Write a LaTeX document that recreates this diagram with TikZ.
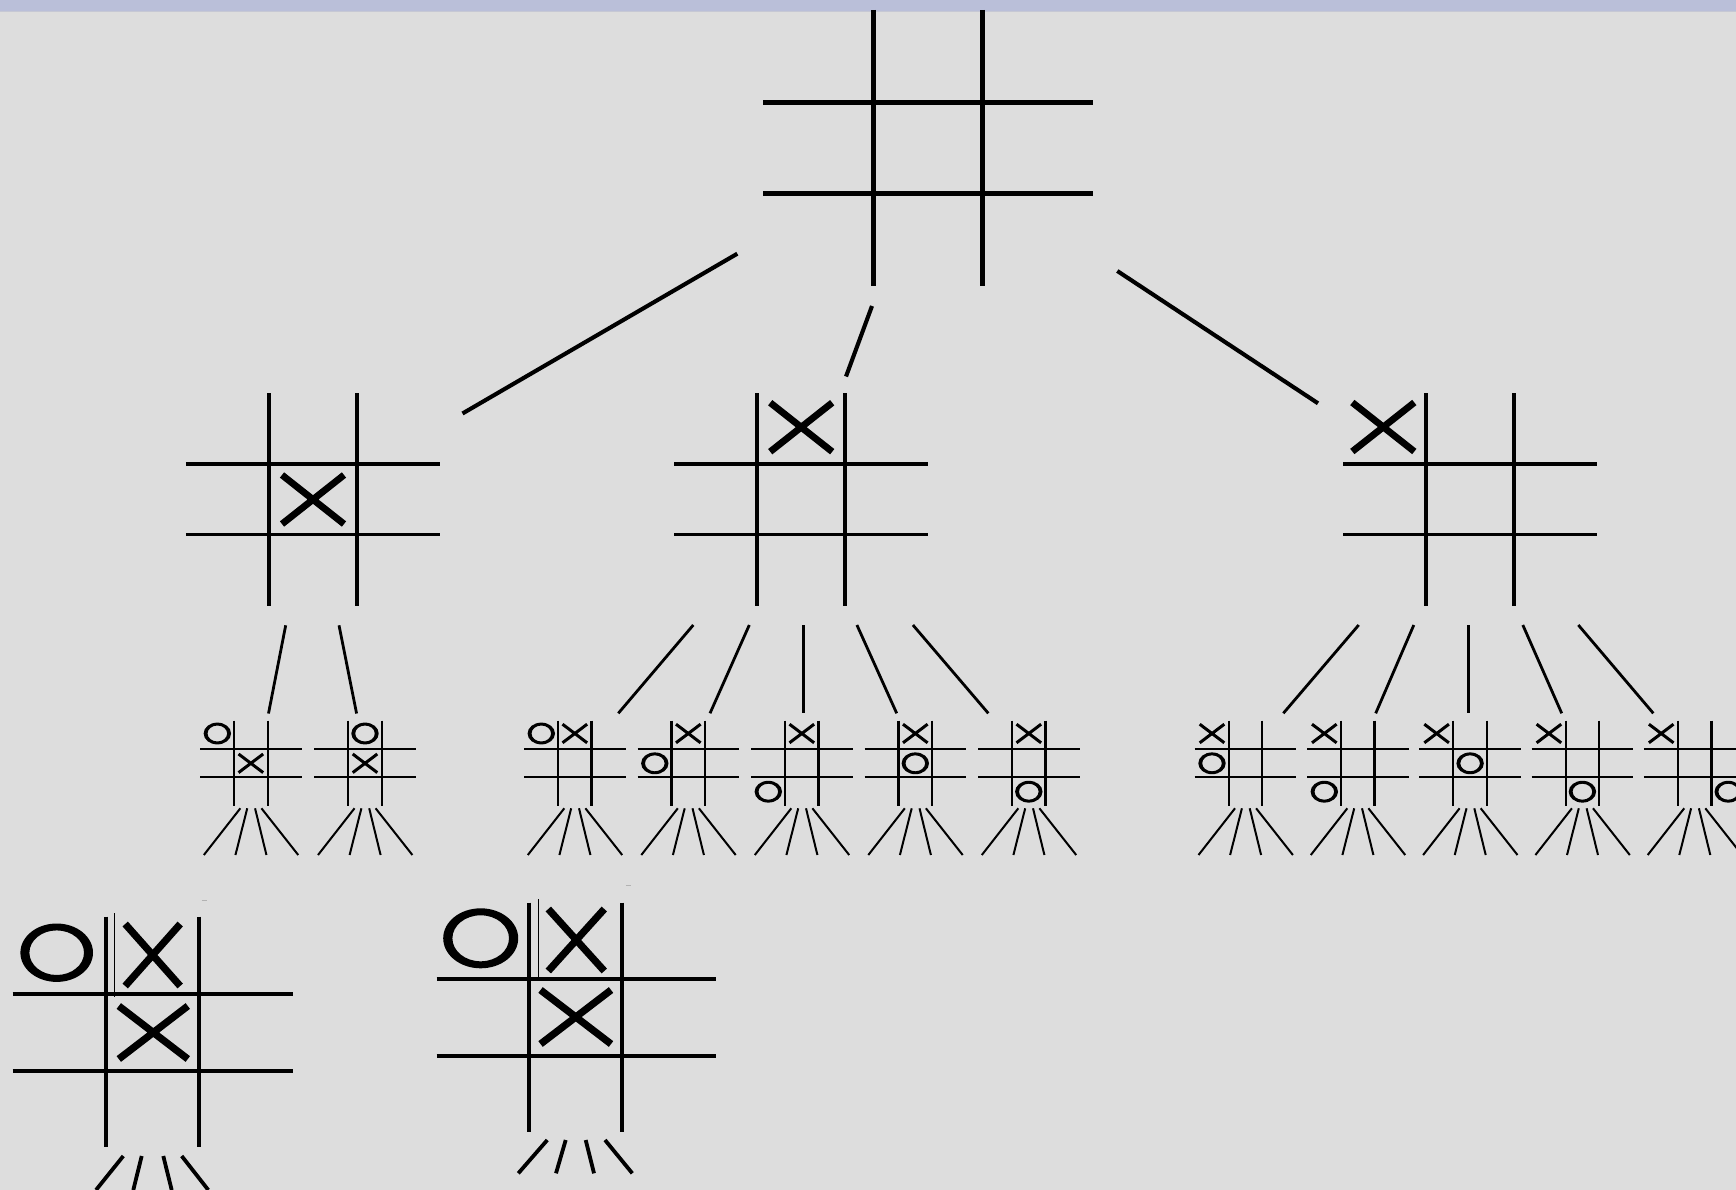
\documentclass[tikz,border=0pt]{standalone}
\definecolor{bgc}{HTML}{DDDDDD}
\definecolor{bandc}{HTML}{BABFD9}
\definecolor{bandedge}{HTML}{C6C8D4}
\tikzset{
  rootgrid/.style={line width=4.5pt, black},
  lonegrid/.style={line width=3.8pt, black},
  smallgrid/.style={line width=2.2pt, black},
  biggrid/.style={line width=4.2pt, black},
  rootconn/.style={line width=4.1pt, black},
  loneconn/.style={line width=2.8pt, black},
  fanline/.style={line width=2pt, black},
  bigfan/.style={line width=3.8pt, black},
  smallmark/.style={line width=3pt, black},
  thinart/.style={line width=0.8pt, black}
}
% grid: x1 x2 vtop vbot hy1 hy2 hleft hright style
\newcommand{\tttgrid}[9]{\draw[#9] (#1,#3)--(#1,#4) (#2,#3)--(#2,#4) (#7,#5)--(#8,#5) (#7,#6)--(#8,#6);}
% X mark: cx cy w h linewidth
\newcommand{\mkBigX}[5]{\draw[line width=#5] (#1-#3/2,#2-#4/2)--(#1+#3/2,#2+#4/2) (#1-#3/2,#2+#4/2)--(#1+#3/2,#2-#4/2);}
% O ring: cx cy outer-rx outer-ry inner-rx inner-ry
\newcommand{\mkRing}[6]{\fill[black, even odd rule] (#1,#2) ellipse [x radius=#3pt, y radius=#4pt] (#1,#2) ellipse [x radius=#5pt, y radius=#6pt];}
\newcommand{\mkX}[2]{\draw[smallmark] (#1-12.3,#2-9.3)--(#1+12.3,#2+9.3) (#1-12.3,#2+9.3)--(#1+12.3,#2-9.3);}
\newcommand{\mkO}[2]{\mkRing{#1}{#2}{13.7}{10.9}{9.8}{8.0}}
\newcommand{\smallboard}[1]{%
  \draw[smallgrid] (#1-16.75,720.7)--(#1-16.75,805.7) (#1+16.75,720.7)--(#1+16.75,805.7)
    (#1-50.8,749.3)--(#1+50.8,749.3) (#1-50.8,777.3)--(#1+50.8,777.3);
  \draw[fanline] (#1-10.5,808.3)--(#1-47,855) (#1-3.6,808.3)--(#1-15.4,855)
    (#1+4.2,808.3)--(#1+15.6,855) (#1+10.6,808.3)--(#1+47.4,855);}
\begin{document}
\begin{tikzpicture}[x=1pt,y=-1pt]
\useasboundingbox (0,0) rectangle (1736,1190);
\clip (0,0) rectangle (1736,1190);
\fill[bgc] (0,0) rectangle (1736,1190);
\fill[bandc] (0,0) rectangle (1736,11.5);
\draw[bandedge, line width=0.8pt] (0,11.8)--(1736,11.8);

% ---------- root board ----------
\tttgrid{873.5}{982.5}{10}{286}{102.7}{193.7}{763}{1093}{rootgrid}

% ---------- level 1 boards ----------
\tttgrid{269.1}{356.8}{393.3}{605.6}{464.3}{534.5}{185.9}{440.1}{lonegrid}
\mkBigX{313}{499.5}{62}{49}{6.8pt}
\tttgrid{757.3}{844.7}{393.3}{605.6}{464.3}{534.5}{674}{927.7}{lonegrid}
\mkBigX{801.2}{427.2}{62}{49}{6.8pt}
\tttgrid{1426.3}{1513.7}{393.3}{605.6}{464.3}{534.5}{1343}{1597}{lonegrid}
\mkBigX{1383.3}{427}{62}{49}{6.8pt}

% ---------- root connectors ----------
\coordinate (rA1) at (737.3,253.7);  \coordinate (rA2) at (462.5,413.5);
\coordinate (rB1) at (872,306);      \coordinate (rB2) at (846,376.5);
\coordinate (rC1) at (1117.3,271);   \coordinate (rC2) at (1318,403.3);
\draw[rootconn] (rA1)--(rA2);
\draw[rootconn] (rB1)--(rB2);
\draw[rootconn] (rC1)--(rC2);

% ---------- level 1 -> level 2 connectors ----------
\coordinate (lA1) at (285.7,625.3); \coordinate (lA2) at (268.5,713.5);
\coordinate (lB1) at (339,625.3);   \coordinate (lB2) at (356.6,713.5);
\draw[loneconn] (lA1)--(lA2);
\draw[loneconn] (lB1)--(lB2);
\coordinate (m11) at (693.3,625); \coordinate (m12) at (618.3,713.3);
\coordinate (m21) at (749.3,625); \coordinate (m22) at (710,713.3);
\coordinate (m31) at (803.3,625); \coordinate (m32) at (803.3,713.3);
\coordinate (m41) at (856.9,625); \coordinate (m42) at (896.7,713.3);
\coordinate (m51) at (912.9,625); \coordinate (m52) at (988.3,713.3);
\foreach \i in {1,...,5} {\draw[loneconn] (m\i1)--(m\i2);}
\coordinate (q11) at (1358.7,625); \coordinate (q12) at (1283.3,713.3);
\coordinate (q21) at (1413.8,625); \coordinate (q22) at (1375.7,713.3);
\coordinate (q31) at (1468.3,625); \coordinate (q32) at (1468.3,713.3);
\coordinate (q41) at (1522.8,625); \coordinate (q42) at (1561.7,713.3);
\coordinate (q51) at (1578.3,625); \coordinate (q52) at (1653.3,713.3);
\foreach \i in {1,...,5} {\draw[loneconn] (q\i1)--(q\i2);}

% ---------- level 2 small boards ----------
\smallboard{250.85} \mkO{217.35}{733.5} \mkX{250.85}{763.3}
\smallboard{365}    \mkO{365}{733.5}    \mkX{365}{763.3}

\smallboard{574.8}  \mkO{541.3}{733.5}  \mkX{574.8}{733.5}
\smallboard{688.3}  \mkX{688.3}{733.5}  \mkO{654.8}{763.3}
\smallboard{801.8}  \mkX{801.8}{733.5}  \mkO{768.3}{791.7}
\smallboard{915.3}  \mkX{915.3}{733.5}  \mkO{915.3}{763.3}
\smallboard{1028.8} \mkX{1028.8}{733.5} \mkO{1028.8}{791.7}

\smallboard{1245.5} \mkX{1212}{733.5}   \mkO{1212}{763.3}
\smallboard{1357.8} \mkX{1324.3}{733.5} \mkO{1324.3}{791.7}
\smallboard{1470.1} \mkX{1436.6}{733.5} \mkO{1470.1}{763.3}
\smallboard{1582.4} \mkX{1548.9}{733.5} \mkO{1582.4}{791.7}
\smallboard{1694.7} \mkX{1661.2}{733.5} \mkO{1728.2}{791.7}

% ---------- bottom enlarged boards ----------
\tttgrid{106}{198.7}{916.7}{1146.7}{994.3}{1070.7}{12.7}{293.3}{biggrid}
\draw[thinart] (114.3,913.3)--(114.3,996.7);
\mkRing{56.7}{952.7}{36.3}{29.2}{27.3}{22.3}
\mkBigX{152.7}{955}{55}{62}{7.2pt}
\mkBigX{153.3}{1032.5}{69}{53}{7.2pt}
\draw[bigfan] (123.3,1156)--(96,1190) (141.7,1156)--(133.3,1190)
  (163.3,1156)--(171.7,1190) (181.7,1156)--(208.3,1190);
\draw[gray!60, line width=1pt] (201.5,900)--(206.5,900);

\tttgrid{529.3}{622}{902.7}{1132.3}{979.3}{1055.7}{436.7}{716}{biggrid}
\draw[thinart] (538.3,899.3)--(538.3,981);
\mkRing{480.7}{938.3}{37.5}{30}{28.3}{23}
\mkBigX{576.3}{940}{56}{62}{7.2pt}
\mkBigX{575.8}{1017}{70.5}{54}{7.2pt}
\draw[bigfan] (547.3,1140)--(518.3,1173.3) (565.7,1140)--(556,1173.3)
  (585.7,1140)--(594,1173.3) (605,1140)--(632.3,1173.3);
\draw[gray!60, line width=1pt] (625.8,885)--(630.8,885);
\end{tikzpicture}
\end{document}
